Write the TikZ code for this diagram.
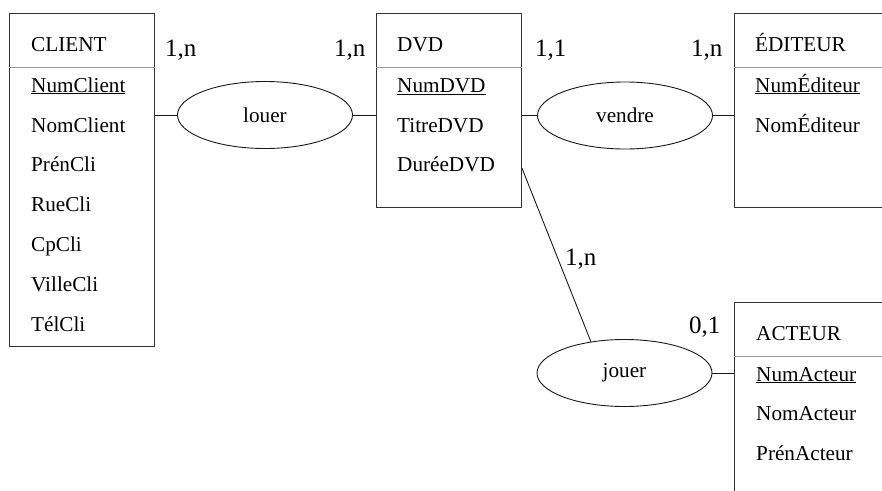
\documentclass[tikz,border=0pt]{standalone}
\usepackage{fontspec}
\setmainfont{Liberation Serif}
\usetikzlibrary{shapes.geometric,calc}
\begin{document}
\begin{tikzpicture}[x=1pt,y=-1pt,
  entbox/.style={draw=black!80, line width=0.9pt, anchor=north west, inner sep=0pt},
  sepline/.style={draw=black!40, line width=0.9pt},
  txt/.style={anchor=base west, inner sep=0pt, font=\fontsize{21.2}{24}\selectfont, text=black},
  card/.style={anchor=base west, inner sep=0pt, font=\fontsize{25}{28}\selectfont, text=black},
  rel/.style={ellipse, draw=black!90, line width=0.9pt, inner sep=0pt, minimum width=175pt, minimum height=67pt, font=\fontsize{21.2}{24}\selectfont, text=black},
  conn/.style={draw=black!90, line width=0.9pt}]
\useasboundingbox (0,0) rectangle (882,490);
\clip (0,0) rectangle (882,490);
% entities
\node[entbox, minimum width=145pt, minimum height=333pt] (client) at (9,13) {};
\node[entbox, minimum width=145pt, minimum height=194pt] (dvd) at (376,13) {};
\node[entbox, minimum width=180pt, minimum height=194pt] (editeur) at (734,13) {};
\node[entbox, minimum width=180pt, minimum height=220pt] (acteur) at (733.5,302) {};
% separators
\draw[sepline] ($(client.north west)+(0,54)$) -- ($(client.north east)+(0,54)$);
\draw[sepline] ($(dvd.north west)+(0,54)$) -- ($(dvd.north east)+(0,54)$);
\draw[sepline] ($(editeur.north west)+(0,54)$) -- ($(editeur.north east)+(0,54)$);
\draw[sepline] ($(acteur.north west)+(0,54)$) -- ($(acteur.north east)+(0,54)$);
% CLIENT texts
\node[txt] (clientH) at (31,51) {CLIENT};
\node[txt] (c1) at (31,92) {\underline{NumClient}};
\node[txt] (c2) at (31,132) {NomClient};
\node[txt] (c3) at (31,171) {PrénCli};
\node[txt] (c4) at (31,211) {RueCli};
\node[txt] (c5) at (31,251) {CpCli};
\node[txt] (c6) at (31,291) {VilleCli};
\node[txt] (c7) at (31,331) {TélCli};
% DVD texts
\node[txt] (dvdH) at (397,51) {DVD};
\node[txt] (d1) at (397,92) {\underline{NumDVD}};
\node[txt] (d2) at (397,132) {TitreDVD};
\node[txt] (d3) at (397,171) {DuréeDVD};
% EDITEUR texts
\node[txt] (edH) at (755,51) {ÉDITEUR};
\node[txt] (e1) at (755,92) {\underline{NumÉditeur}};
\node[txt] (e2) at (755,132) {NomÉditeur};
% ACTEUR texts
\node[txt] (acH) at (756,340) {ACTEUR};
\node[txt] (a1) at (756,381) {\underline{NumActeur}};
\node[txt] (a2) at (756,420) {NomActeur};
\node[txt] (a3) at (756,460) {PrénActeur};
% relations
\node[rel] (louer) at (265,115) {louer};
\node[rel] (vendre) at (625,115.5) {vendre};
\node[rel] (jouer) at (624.5,373) {jouer};
% connectors
\draw[conn] (client.east |- louer) -- (louer);
\draw[conn] (louer) -- (louer -| dvd.west);
\draw[conn] (dvd.east |- vendre) -- (vendre);
\draw[conn] (vendre) -- (vendre -| editeur.west);
\draw[conn] (jouer) -- (jouer -| acteur.west);
\coordinate (dj) at ($(dvd.north east)+(0,155)$);
\draw[conn] (dj) -- (jouer.137);
% cardinalities
\node[card] (k1) at (165,56) {1,n};
\node[card] (k2) at (334,56) {1,n};
\node[card] (k3) at (535,56) {1,1};
\node[card] (k4) at (691,56) {1,n};
\node[card] (k5) at (565,265) {1,n};
\node[card] (k6) at (689,333) {0,1};
\end{tikzpicture}
\end{document}
